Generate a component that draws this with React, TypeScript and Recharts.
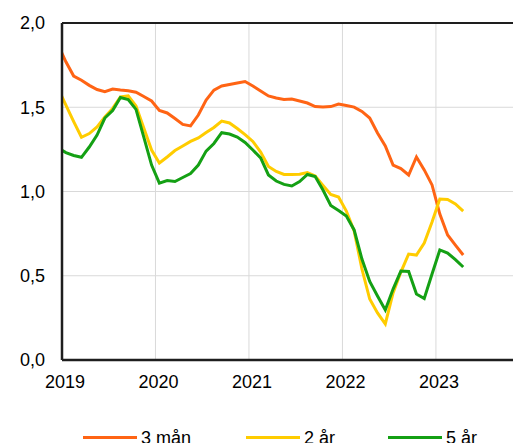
import { LineChart, Line, XAxis, YAxis, CartesianGrid, Legend, ReferenceLine } from "recharts";

// Monthly observations, Dec 2018 – Apr 2023 (first point sits just left of the axis and is clipped)
const START_YEAR = 2018;
const START_MONTH = 12;
const months = Array.from({ length: 53 }, (_, i) => {
  const m0 = START_MONTH - 1 + i;
  const y = START_YEAR + Math.floor(m0 / 12);
  const m = (m0 % 12) + 1;
  return `${y}-${String(m).padStart(2, "0")}`;
});

const rate3m = [
  1.87, 1.77, 1.685, 1.66, 1.63, 1.605, 1.592, 1.608, 1.602, 1.598, 1.589, 1.564, 1.537,
  1.481, 1.466, 1.433, 1.398, 1.389, 1.454, 1.543, 1.602, 1.626, 1.635, 1.644, 1.653,
  1.626, 1.596, 1.567, 1.555, 1.546, 1.549, 1.537, 1.525, 1.504, 1.501, 1.504, 1.519,
  1.51, 1.501, 1.475, 1.436, 1.347, 1.27, 1.157, 1.136, 1.098, 1.205, 1.128, 1.039,
  0.866, 0.742, 0.682, 0.623,
];

const rate2y = [
  1.612, 1.513, 1.415, 1.322, 1.344, 1.383, 1.442, 1.493, 1.561, 1.567, 1.507, 1.377, 1.246,
  1.169, 1.205, 1.243, 1.27, 1.297, 1.318, 1.35, 1.38, 1.418, 1.407, 1.374, 1.338,
  1.297, 1.234, 1.148, 1.119, 1.101, 1.101, 1.102, 1.113, 1.092, 1.036, 0.982, 0.967,
  0.884, 0.766, 0.54, 0.362, 0.279, 0.214, 0.398, 0.522, 0.629, 0.623, 0.694, 0.819,
  0.955, 0.953, 0.926, 0.884,
];

const rate5y = [
  1.259, 1.231, 1.214, 1.203, 1.264, 1.335, 1.436, 1.481, 1.558, 1.546, 1.487, 1.323, 1.157,
  1.05, 1.065, 1.059, 1.083, 1.107, 1.157, 1.24, 1.285, 1.349, 1.341, 1.323, 1.291,
  1.246, 1.199, 1.098, 1.062, 1.042, 1.033, 1.059, 1.101, 1.089, 1.009, 0.917, 0.887,
  0.855, 0.772, 0.599, 0.466, 0.38, 0.297, 0.421, 0.528, 0.525, 0.392, 0.365, 0.51,
  0.653, 0.635, 0.596, 0.552,
];

const yearTicks = [2019, 2020, 2021, 2022, 2023];
const valueTicks = [0, 0.5, 1, 1.5, 2];

const series = [
  { key: "m3", name: "3 mån", color: "#FF6414" },
  { key: "y2", name: "2 år", color: "#FFCC00" },
  { key: "y5", name: "5 år", color: "#14A014" },
];

// observations are placed mid-month on a decimal-year axis
const toYear = (ym: string) => {
  const [y, m] = ym.split("-").map(Number);
  return y + (m - 0.5) / 12;
};

const data = months.map((ym, i) => ({
  t: toYear(ym),
  m3: rate3m[i],
  y2: rate2y[i],
  y5: rate5y[i],
}));

const font = "'Liberation Sans', Arial, sans-serif";

const LegendRow = () => (
  <div style={{ position: "relative", height: 12, fontFamily: font, fontSize: 18, color: "#000" }}>
    {series.map((s, i) => (
      <div
        key={s.key}
        style={{
          position: "absolute",
          left: [75, 238, 380][i],
          top: -4,
          height: 20,
          display: "flex",
          alignItems: "center",
          whiteSpace: "nowrap",
        }}
      >
        <span style={{ display: "inline-block", width: 54, height: 3, background: s.color, marginRight: 4 }} />
        <span style={{ lineHeight: "20px", marginTop: 2 }}>{s.name}</span>
      </div>
    ))}
  </div>
);

export default function App() {
  return (
    <div style={{ width: 513, height: 435 }}>
      <style>{"body{overflow:hidden}"}</style>
      <LineChart width={513} height={435} data={data} margin={{ top: 15, right: 0, bottom: 0, left: 0 }}>
        <CartesianGrid stroke="#D9D9D9" strokeWidth={1} />
        <XAxis
          dataKey="t"
          type="number"
          domain={[2019, 2023.91]}
          allowDataOverflow
          ticks={yearTicks}
          tickFormatter={(v) => String(v)}
          height={71}
          tickSize={0}
          tickMargin={15}
          axisLine={{ stroke: "#1E1E1E", strokeWidth: 2.5 }}
          tickLine={false}
          tick={{ fill: "#000", fontSize: 18, fontFamily: font, dx: 3 }}
        />
        <YAxis
          type="number"
          domain={[0, 2]}
          ticks={valueTicks}
          tickFormatter={(v) => v.toFixed(1).replace(".", ",")}
          width={54}
          tickSize={0}
          tickMargin={17}
          axisLine={{ stroke: "#1E1E1E", strokeWidth: 2.5 }}
          tickLine={false}
          tick={{ fill: "#000", fontSize: 18, fontFamily: font }}
        />
        <ReferenceLine y={2} stroke="#1E1E1E" strokeWidth={2} />
        <Legend verticalAlign="bottom" content={() => <LegendRow />} />
        {series.map((s) => (
          <Line
            key={s.key}
            type="linear"
            dataKey={s.key}
            name={s.name}
            stroke={s.color}
            strokeWidth={3}
            dot={false}
            activeDot={false}
            isAnimationActive={false}
          />
        ))}
      </LineChart>
    </div>
  );
}
